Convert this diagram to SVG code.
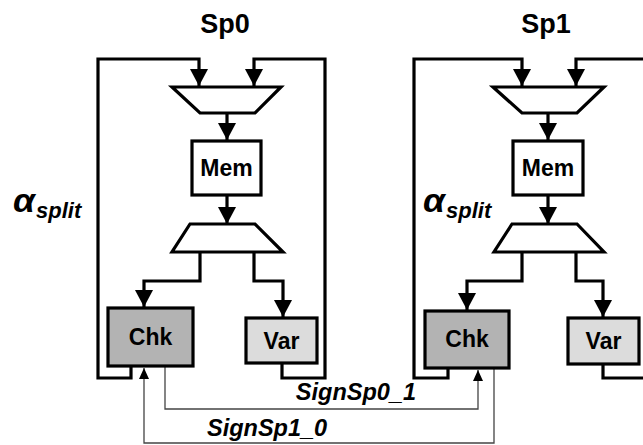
<svg xmlns="http://www.w3.org/2000/svg" width="643" height="445" viewBox="0 0 643 445">
<style>
.w{fill:none;stroke:#000;stroke-width:3.2;stroke-linejoin:miter}
.t{fill:none;stroke:#444;stroke-width:1.3}
.box{stroke:#000;stroke-width:3.2}
.mux{fill:#fff;stroke:#000;stroke-width:3.2;stroke-linejoin:miter}
.lbl{font-family:"Liberation Sans",Arial,sans-serif;font-weight:bold;fill:#000}
.bt{font-size:23px;text-anchor:middle}
.ttl{font-size:27px;text-anchor:middle}
.sig{font-size:23.5px;font-style:italic}
.al{font-size:34px;font-style:italic}
.sub{font-size:22px;font-style:italic}
</style>
<defs>
<marker id="ah" markerUnits="userSpaceOnUse" markerWidth="17" markerHeight="18" viewBox="0 0 17 18" refX="17" refY="9" orient="auto">
<path d="M0,0 L17,9 L0,18 Z" fill="#000"/>
</marker>
<marker id="ahs" markerUnits="userSpaceOnUse" markerWidth="11" markerHeight="10" viewBox="0 0 11 10" refX="11" refY="5" orient="auto">
<path d="M0,0 L11,5 L0,10 Z" fill="#000"/>
</marker>
</defs>
<g id="connectors">
<polyline class="w" points="131,366 131,378 98,378 98,59 199,59 199,86" marker-end="url(#ah)"/>
<polyline class="w" points="282,363 282,378 325,378 325,59 254,59 254,86" marker-end="url(#ah)"/>
<line class="w" x1="227" y1="113" x2="227" y2="140" marker-end="url(#ah)"/>
<line class="w" x1="227" y1="195" x2="227" y2="224" marker-end="url(#ah)"/>
<polyline class="w" points="200,252 200,281 144,281 144,307" marker-end="url(#ah)"/>
<polyline class="w" points="254,252 254,281 283,281 283,317" marker-end="url(#ah)"/>
<polyline class="w" points="448,368 448,378 414,378 414,59 522,59 522,86" marker-end="url(#ah)"/>
<polyline class="w" points="603,364 603,378 650,378"/>
<polyline class="w" points="650,59 576,59 576,86" marker-end="url(#ah)"/>
<line class="w" x1="548" y1="113" x2="548" y2="140" marker-end="url(#ah)"/>
<line class="w" x1="548" y1="195" x2="548" y2="224" marker-end="url(#ah)"/>
<polyline class="w" points="522,252 522,281 467,281 467,310" marker-end="url(#ah)"/>
<polyline class="w" points="576,252 576,281 603,281 603,317" marker-end="url(#ah)"/>
<polyline class="t" points="165,367 165,409 478,409 478,370" marker-end="url(#ahs)"/>
<polyline class="t" points="494,369 494,443 144,443 144,368" marker-end="url(#ahs)"/>
</g>
<g id="sp0-title"><text class="lbl ttl" x="225" y="33">Sp0</text></g>
<g id="sp0-alpha"><text class="lbl al" x="13" y="212" textLength="22" lengthAdjust="spacingAndGlyphs">α</text><text class="lbl sub" x="36" y="218">split</text></g>
<g id="sp0-mux1"><polygon class="mux" points="172,87 281,87 255,113 200,113"/></g>
<g id="sp0-mem"><rect class="box" x="192" y="141" width="69" height="54" fill="#fff"/><text class="lbl bt" x="226.5" y="176">Mem</text></g>
<g id="sp0-mux2"><polygon class="mux" points="190,224 255,224 283,252 172,252"/></g>
<g id="sp0-chk"><rect class="box" x="108" y="308" width="85" height="58" fill="#b3b3b3"/><text class="lbl bt" x="150.5" y="345">Chk</text></g>
<g id="sp0-var"><rect class="box" x="246" y="318" width="71" height="45" fill="#dcdcdc"/><text class="lbl bt" x="281.5" y="349">Var</text></g>
<g id="sp1-title"><text class="lbl ttl" x="546" y="33">Sp1</text></g>
<g id="sp1-alpha"><text class="lbl al" x="423" y="212" textLength="22" lengthAdjust="spacingAndGlyphs">α</text><text class="lbl sub" x="446" y="218">split</text></g>
<g id="sp1-mux1"><polygon class="mux" points="493,87 604,87 577,113 522,113"/></g>
<g id="sp1-mem"><rect class="box" x="513" y="141" width="70" height="54" fill="#fff"/><text class="lbl bt" x="548" y="176">Mem</text></g>
<g id="sp1-mux2"><polygon class="mux" points="512,224 577,224 604,252 494,252"/></g>
<g id="sp1-chk"><rect class="box" x="425" y="311" width="84" height="57" fill="#b3b3b3"/><text class="lbl bt" x="467" y="347">Chk</text></g>
<g id="sp1-var"><rect class="box" x="568" y="318" width="71" height="46" fill="#dcdcdc"/><text class="lbl bt" x="603.5" y="349">Var</text></g>
<g id="labels">
<text class="lbl sig" x="416" y="400" text-anchor="end">SignSp0_1</text>
<text class="lbl sig" x="207" y="436">SignSp1_0</text>
</g>
</svg>
